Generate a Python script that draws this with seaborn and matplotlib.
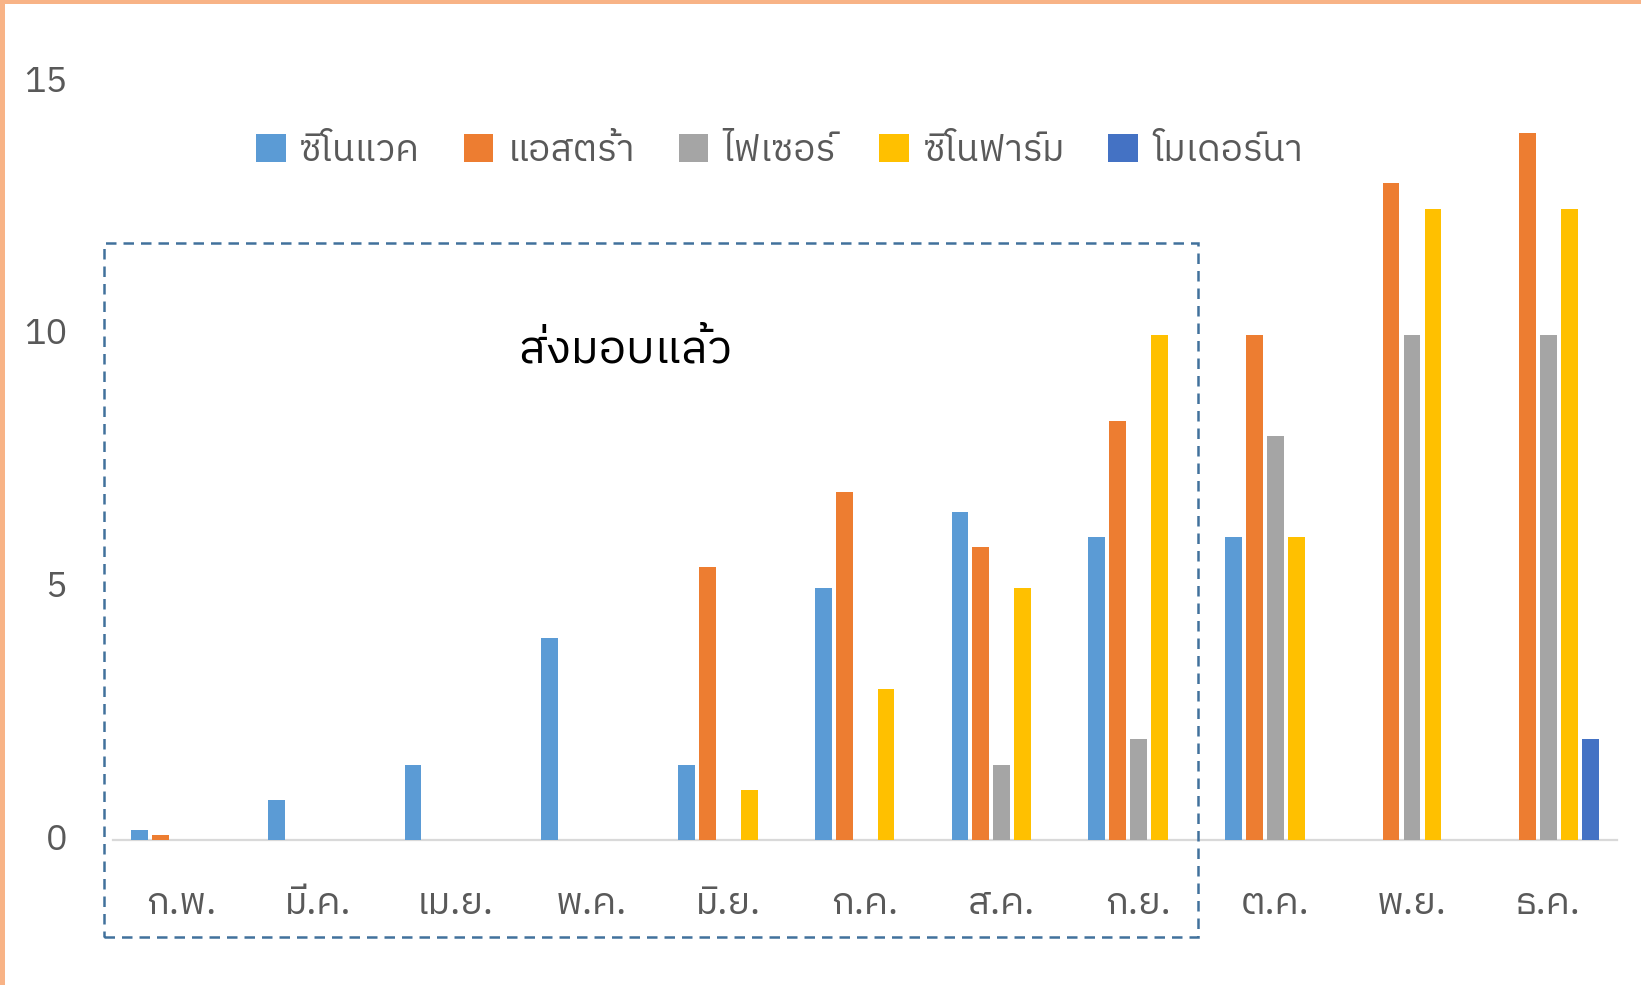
import matplotlib
matplotlib.use("Agg")
import matplotlib.pyplot as plt
from matplotlib import font_manager
from matplotlib.ft2font import FT2Font
from matplotlib.patches import Rectangle
from matplotlib.transforms import ScaledTranslation
import seaborn as sns
import pandas as pd

# ---------------- data ----------------
months = ["ก.พ.", "มี.ค.", "เม.ย.", "พ.ค.", "มิ.ย.", "ก.ค.", "ส.ค.", "ก.ย.", "ต.ค.", "พ.ย.", "ธ.ค."]
vaccines = ["ซิโนแวค", "แอสตร้า", "ไฟเซอร์", "ซิโนฟาร์ม", "โมเดอร์นา"]
sinovac    = [0.2, 0.8, 1.5, 4.0, 1.5, 5.0, 6.5, 6.0, 6.0, 0.0, 0.0]
astra      = [0.1, 0.0, 0.0, 0.0, 5.4, 6.9, 5.8, 8.3, 10.0, 13.0, 14.0]
pfizer     = [0.0, 0.0, 0.0, 0.0, 0.0, 0.0, 1.5, 2.0, 8.0, 10.0, 10.0]
sinopharm  = [0.0, 0.0, 0.0, 0.0, 1.0, 3.0, 5.0, 10.0, 6.0, 12.5, 12.5]
moderna    = [0.0, 0.0, 0.0, 0.0, 0.0, 0.0, 0.0, 0.0, 0.0, 0.0, 2.0]
yticks = [0, 5, 10, 15]
box_label = "ส่งมอบแล้ว"

colors = ["#5B9BD5", "#ED7D31", "#A5A5A5", "#FFC000", "#4472C4"]

series = [sinovac, astra, pfizer, sinopharm, moderna]
rows = []
for name, vals in zip(vaccines, series):
    for m, v in zip(months, vals):
        rows.append({"month": m, "vaccine": name, "value": v})
df = pd.DataFrame(rows)

# ---------------- fonts ----------------
installed = {f.name for f in font_manager.fontManager.ttflist}
thai = []
for f in font_manager.fontManager.ttflist:
    try:
        cm = FT2Font(f.fname).get_charmap()
    except Exception:
        continue
    if 0x0E01 in cm and 0x0E34 in cm and f.name not in thai:
        thai.append(f.name)
thai.sort(key=lambda n: (("Thai" not in n), ("Looped" in n), n))
main_family = thai[:1] + ["DejaVu Sans"]
digit_family = (["Liberation Sans Narrow"] if "Liberation Sans Narrow" in installed else []) + main_family

sns.set_style("white")
plt.rcParams["font.family"] = main_family

# ---------------- figure ----------------
fig = plt.figure(figsize=(16.41, 9.85), dpi=100)
ax = fig.add_axes([0.0689, 0.1468, 0.9854 - 0.0689, 0.9166 - 0.1468])

sns.barplot(data=df, x="month", y="value", hue="vaccine", hue_order=vaccines,
            order=months, palette=colors, saturation=1, width=0.765, gap=0.2,
            linewidth=0, errorbar=None, ax=ax, legend=True)

ax.set_xlim(-0.5, len(months) - 0.5)
ax.set_ylim(0, 15)
ax.set_yticks(yticks)
ax.set_xlabel("")
ax.set_ylabel("")
for s in ["top", "right", "left"]:
    ax.spines[s].set_visible(False)
ax.spines["bottom"].set_color("#D9D9D9")
ax.spines["bottom"].set_linewidth(1.6)
ax.spines["bottom"].set_zorder(0.5)
ax.tick_params(axis="both", length=0, colors="#595959")
ax.tick_params(axis="y", pad=33)
ax.tick_params(axis="x", pad=33)
up = ScaledTranslation(0, 4 / 100, fig.dpi_scale_trans)
for lab in ax.get_yticklabels():
    lab.set_family(digit_family)
    lab.set_fontsize(26)
    lab.set_transform(lab.get_transform() + up)
for lab in ax.get_xticklabels():
    lab.set_fontsize(27)
ax.grid(False)

# legend
handles, labels = ax.get_legend_handles_labels()
ax.legend(handles, labels, ncol=5, loc="center", bbox_to_anchor=(0.475, 0.847),
          bbox_transform=fig.transFigure, frameon=False, fontsize=26.5,
          handlelength=0.8, handleheight=0.8, handletextpad=0.4,
          columnspacing=1.18, labelcolor="#595959")

# dashed box
fig.patches.append(Rectangle((0.0631, 0.049), 0.7303 - 0.0631, 0.7535 - 0.049,
                             transform=fig.transFigure, fill=False,
                             edgecolor="#41719C", linewidth=1.8,
                             linestyle=(0, (4.2, 2.8)), zorder=5))
fig.text(0.381, 0.645, box_label, fontsize=33, color="black", ha="center", va="center")

# orange frame (top and left)
fig.patches.append(Rectangle((0, 1 - 4 / 985), 1, 4 / 985, transform=fig.transFigure,
                             facecolor="#F8B386", edgecolor="none", zorder=10))
fig.patches.append(Rectangle((0, 0), 5 / 1641, 1, transform=fig.transFigure,
                             facecolor="#F8B386", edgecolor="none", zorder=10))

fig.savefig("out.png", dpi=100)
